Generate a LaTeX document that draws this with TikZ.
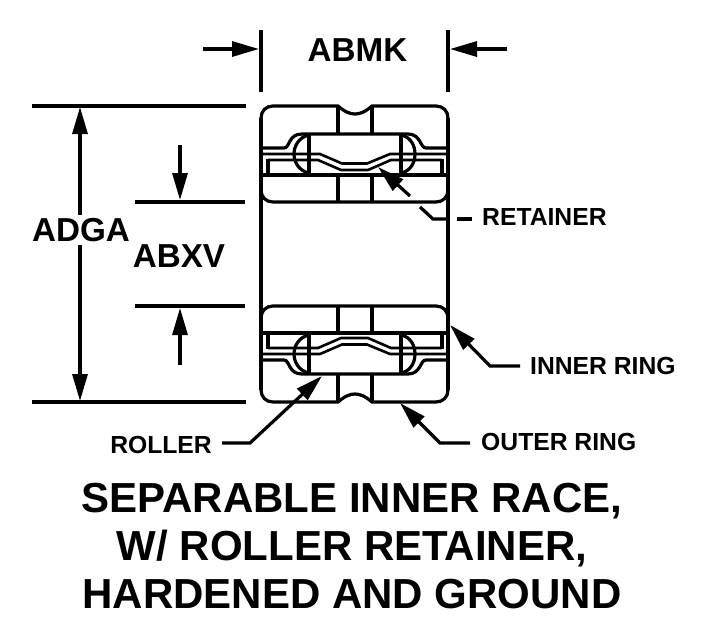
\documentclass[tikz,border=0pt]{standalone}
\usepackage{fontspec}
\setmainfont{Liberation Sans}
\usetikzlibrary{arrows.meta}
\tikzset{
  wire/.style={line width=3.2pt,line join=miter},
  thin wire/.style={line width=2.6pt},
  leader/.style={line width=3.2pt,-{Triangle[length=27pt,width=15pt]}},
  dimtxt/.style={font=\bfseries\fontsize{33.2}{33.2}\selectfont,inner sep=0pt},
  labtxt/.style={font=\bfseries\fontsize{24.7}{24.7}\selectfont,inner sep=0pt},
  titletxt/.style={font=\bfseries\fontsize{42}{42}\selectfont,inner sep=0pt}
}
\newcommand{\bearinghalf}{%
  % inner ring
  \draw[wire] (261,318) .. controls (261,311) and (266,306) .. (273,306) -- (436,306) .. controls (443,306) and (448,311) .. (448,318);
  \draw[wire] (261,333) -- (448,333);
  \draw[wire] (338,306) -- (338,333) (372,306) -- (372,333);
  \draw[wire] (268,333) -- (268,349) (442,333) -- (442,349);
  % retainer
  \draw[thin wire] (268,348) -- (318,348) -- (341,338) -- (368,338) -- (391,348) -- (442,348);
  \draw[thin wire] (261,354) -- (320,354) -- (342,344.5) -- (367,344.5) -- (390,354) -- (448,354);
  % outer race
  \draw[wire] (261,360) -- (284,360) .. controls (290,360) and (288,374) .. (302,374) -- (408,374) .. controls (421,374) and (420,360) .. (426,360) -- (448,360);
  % rollers
  \draw[wire] (309,333) -- (309,374) (401,333) -- (401,374);
  \draw[wire] (309,335) .. controls (299,337) and (294,346) .. (294,354) .. controls (294,362) and (299,371) .. (309,373);
  \draw[wire] (401,335) .. controls (411,337) and (415,346) .. (415,354) .. controls (415,362) and (411,371) .. (401,373);
  % outer ring
  \draw[wire] (338,374) -- (338,402) (372,374) -- (372,402);
  \draw[wire] (261,390) .. controls (261,397) and (266,402) .. (273,402) -- (338,402) .. controls (345,396) and (350,394) .. (355,394) .. controls (360,394) and (365,396) .. (372,402) -- (436,402) .. controls (443,402) and (448,397) .. (448,390);
}
\begin{document}
\begin{tikzpicture}[x=1pt,y=-1pt]
\useasboundingbox (0,0) rectangle (707,635);
\fill[white] (0,0) rectangle (707,635);
% body
\begin{scope}\bearinghalf\end{scope}
\begin{scope}[yshift=-508pt,yscale=-1]\bearinghalf\end{scope}
\draw[wire] (261,118) -- (261,390) (448,118) -- (448,390);
% extension lines
\draw[wire] (261,30) -- (261,92) (448,30) -- (448,92);
\draw[wire] (32,106) -- (246,106) (32,402) -- (246,402);
\draw[wire] (135,202) -- (245,202) (135,306) -- (245,306);
% dimension labels
\node[dimtxt] (abmk) at (357.5,50) {ABMK};
\node[dimtxt] (adga) at (81,230) {ADGA};
\node[dimtxt] (abxv) at (179,256) {ABXV};
% dimension arrows
\coordinate (a1) at (203,49); \coordinate (a1t) at (259,49);
\coordinate (a2) at (507,49); \coordinate (a2t) at (450,49);
\coordinate (d1t) at (80,107); \coordinate (d2t) at (80,401);
\coordinate (b1) at (180,145); \coordinate (b1t) at (180,200);
\coordinate (b2) at (180,365); \coordinate (b2t) at (180,308);
\draw[leader] (a1) -- (a1t);
\draw[leader] (a2) -- (a2t);
\draw[leader] (adga.north -| d1t) ++(0,-3) -- (d1t);
\draw[leader] (adga.south -| d2t) ++(0,3) -- (d2t);
\draw[leader] (b1) -- (b1t);
\draw[leader] (b2) -- (b2t);
% labels and leaders
\node[labtxt,anchor=west] (retainer) at (482,217) {RETAINER};
\node[labtxt,anchor=west] (inner) at (530,366) {INNER RING};
\node[labtxt,anchor=west] (outer) at (481,442) {OUTER RING};
\node[labtxt,anchor=east] (roller) at (212,445) {ROLLER};
\coordinate (rt) at (378,167); \coordinate (rm) at (410,196);
\draw[leader] (rm) -- (rt);
\draw[wire] (420,207) -- (433,219) -- (447,219);
\draw[wire] (457,219) -- (472,219);
\coordinate (it) at (450,325); \coordinate (im) at (490,366);
\draw[leader] (520,366) -- (im) -- (it);
\coordinate (ot) at (400,403); \coordinate (om) at (440,443);
\draw[leader] (470,443) -- (om) -- (ot);
\coordinate (lt) at (322,376); \coordinate (lm) at (250,443);
\draw[leader] (222,443) -- (lm) -- (lt);
% title
\node[titletxt] (t1) at (352,501.5) {SEPARABLE INNER RACE,};
\node[titletxt] (t2) at (352,548.5) {W/ ROLLER RETAINER,};
\node[titletxt] (t3) at (352,594.5) {HARDENED AND GROUND};
\end{tikzpicture}
\end{document}
